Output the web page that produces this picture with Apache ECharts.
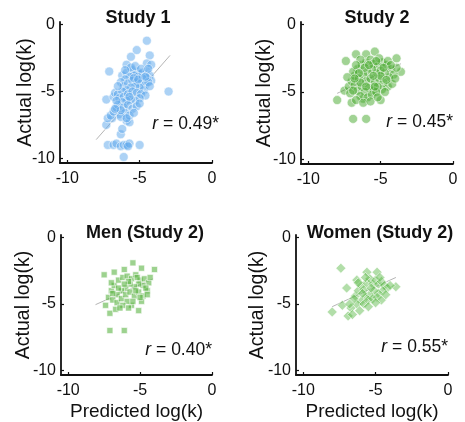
<!DOCTYPE html>
<html><head><meta charset="utf-8">
<script src="https://cdn.jsdelivr.net/npm/echarts@6/dist/echarts.min.js"></script>
<style>html,body{margin:0;padding:0;background:#fff}#c{width:465px;height:422px}</style>
</head><body><div id="c"></div>
<script>
const panelTitles = ['Study 1', 'Study 2', 'Men (Study 2)', 'Women (Study 2)'];
const rValues = ['0.49*', '0.45*', '0.40*', '0.55*'];
const tickValues = [-10, -5, 0];
const xAxisName = 'Predicted log(k)';
const yAxisName = 'Actual log(k)';

const study1 = [
[-4.5,-1.2],[-5.2,-1.9],[-4.3,-2.3],[-5.6,-2.4],[-7.1,-3.5],[-5.9,-3.0],[-4.5,-2.9],[-4.2,-3.0],[-3.0,-5.0],[-7.3,-5.6],
[-7.3,-7.5],[-7.2,-9.0],[-6.8,-9.0],[-6.6,-8.9],[-6.3,-9.1],[-6.1,-9.0],[-5.9,-9.0],[-5.7,-8.9],[-5.8,-9.1],[-5.0,-9.0],
[-6.1,-9.9],[-6.3,-8.2],[-6.2,-7.8],[-5.9,-7.2],[-5.7,-7.3],[-6.4,-6.7],[-6.9,-7.0],[-7.2,-7.0],[-7.0,-6.8],[-6.8,-6.5],
[-6.6,-6.2],[-6.8,-5.4],[-6.7,-5.1],[-6.5,-5.2],
[-6.2,-3.8],[-5.9,-3.6],[-5.5,-3.4],[-5.2,-3.5],[-5.0,-3.7],[-4.8,-3.6],[-4.5,-3.5],[-4.3,-3.8],[-4.2,-4.2],[-4.5,-4.0],
[-4.8,-4.0],[-5.1,-3.9],[-5.4,-3.8],[-5.7,-3.9],[-6.0,-4.1],[-6.3,-4.3],[-6.1,-4.6],[-5.8,-4.4],[-5.5,-4.2],[-5.2,-4.3],
[-4.9,-4.4],[-4.6,-4.5],[-4.4,-4.3],[-4.7,-4.9],[-5.0,-4.7],[-5.3,-4.6],[-5.6,-4.7],[-5.9,-4.9],[-6.2,-5.0],[-6.4,-5.5],
[-6.1,-5.4],[-5.8,-5.2],[-5.5,-5.0],[-5.2,-5.1],[-4.9,-5.2],[-4.6,-5.3],[-5.0,-5.5],[-5.3,-5.7],[-5.6,-5.6],[-5.9,-5.7],
[-6.2,-5.8],[-6.5,-6.0],[-6.1,-6.2],[-5.8,-6.0],[-5.5,-6.3],[-5.2,-6.1],[-5.0,-5.9],[-6.0,-6.6],[-5.7,-6.8],[-6.3,-6.9],
[-5.4,-6.6],[-5.6,-3.2],[-5.3,-3.1],[-4.9,-3.3],[-4.4,-3.3],[-6.5,-4.6],[-6.6,-5.7],[-5.4,-4.0],[-5.1,-4.1],[-4.6,-3.9],
[-4.3,-4.6],[-6.0,-3.4],[-5.7,-5.4],[-6.3,-6.4],[-5.9,-7.0],[-6.7,-6.3]
];
const study2 = [
[-5.4,-2.0],[-6.0,-2.2],[-6.7,-2.2],[-7.4,-2.7],[-3.9,-2.5],[-3.6,-3.5],[-8.0,-5.6],[-6.9,-7.0],[-6.0,-7.0],[-5.0,-5.6],
[-7.5,-4.9],[-7.0,-5.8],[-6.2,-5.5],
[-7.2,-4.6],[-7.0,-4.2],[-6.8,-3.8],[-6.6,-3.3],[-6.3,-3.0],[-6.0,-2.8],[-5.7,-2.6],[-5.5,-2.9],[-5.2,-3.1],[-4.9,-2.8],
[-4.6,-3.0],[-4.3,-3.3],[-4.1,-3.7],[-4.4,-3.9],[-4.7,-3.6],[-5.0,-3.4],[-5.3,-3.6],[-5.6,-3.3],[-5.9,-3.5],[-6.2,-3.7],
[-6.5,-4.0],[-6.8,-4.5],[-6.6,-4.9],[-6.3,-4.6],[-6.0,-4.2],[-5.7,-4.0],[-5.4,-4.3],[-5.1,-4.0],[-4.8,-4.3],[-4.5,-4.6],
[-4.2,-4.4],[-4.9,-4.8],[-5.2,-4.6],[-5.5,-4.9],[-5.8,-4.7],[-6.1,-5.0],[-6.4,-5.3],[-6.7,-5.6],[-5.9,-5.4],[-5.6,-5.2],
[-5.3,-5.0],[-7.1,-5.1],[-6.9,-3.5],[-6.4,-2.6],[-5.1,-2.5],[-4.5,-2.7],[-3.9,-3.2],[-4.0,-4.0],[-6.1,-3.2],[-5.8,-3.0],
[-5.0,-3.8],[-4.6,-4.1],[-5.5,-3.8],[-6.4,-4.3],[-6.9,-4.9],[-6.2,-5.8],[-5.7,-5.7],[-4.7,-5.0],[-5.2,-5.4],[-6.7,-3.0],
[-7.3,-3.9],[-6.5,-3.6],[-5.3,-2.7],[-4.3,-3.0],[-4.8,-3.2],[-6.0,-4.6],[-6.8,-4.0],[-5.4,-4.6]
];
const men = [
[-5.5,-1.9],[-6.1,-2.4],[-6.8,-2.6],[-7.5,-2.8],[-4.0,-2.4],[-4.9,-2.3],[-7.1,-7.0],[-6.1,-7.0],[-7.4,-5.1],[-7.1,-5.7],
[-6.7,-5.4],[-5.1,-5.5],[-4.5,-4.0],[-5.6,-5.1],
[-7.2,-4.5],[-7.0,-4.0],[-6.8,-3.6],[-6.5,-3.2],[-6.2,-3.0],[-5.9,-2.9],[-5.6,-3.1],[-5.3,-2.8],[-5.0,-3.2],[-4.7,-3.1],
[-4.4,-3.4],[-4.8,-3.6],[-5.1,-3.5],[-5.4,-3.7],[-5.7,-3.5],[-6.0,-3.8],[-6.3,-4.0],[-6.6,-4.3],[-6.9,-4.7],[-6.6,-4.9],
[-6.3,-4.6],[-6.0,-4.3],[-5.7,-4.1],[-5.4,-4.4],[-5.1,-4.1],[-4.8,-4.4],[-4.6,-3.8],[-5.9,-4.8],[-6.2,-5.1],[-5.5,-4.8],
[-6.5,-3.8],[-7.0,-3.4],[-5.8,-3.3],[-5.2,-3.0],[-4.3,-3.0],[-6.4,-5.3],[-5.8,-5.3],[-4.9,-4.8],[-6.9,-4.2],[-5.0,-4.5],
[-4.5,-4.3],[-6.1,-3.5],[-5.3,-4.0]
];
const women = [
[-7.4,-2.3],[-5.6,-2.6],[-4.9,-2.6],[-3.6,-3.7],[-8.0,-5.6],[-6.9,-5.9],[-7.3,-5.1],[-6.7,-5.3],[-6.3,-3.2],[-7.0,-3.8],
[-6.4,-4.4],
[-6.2,-4.0],[-6.0,-3.6],[-5.8,-3.9],[-5.6,-3.4],[-5.4,-3.1],[-5.2,-3.5],[-5.0,-3.2],[-4.8,-3.5],[-4.6,-3.3],[-4.4,-3.6],
[-4.2,-3.8],[-4.0,-3.6],[-4.5,-4.0],[-4.8,-4.2],[-5.1,-4.0],[-5.4,-4.3],[-5.7,-4.5],[-6.0,-4.8],[-6.3,-5.0],[-6.6,-5.8],
[-6.1,-5.5],[-5.8,-5.0],[-5.5,-4.7],[-5.2,-4.6],[-4.9,-4.5],[-4.6,-4.7],[-5.9,-4.2],[-5.3,-3.8],[-4.7,-3.0],[-5.7,-3.0],
[-6.5,-4.6],[-6.8,-5.0],[-5.0,-4.9],[-4.3,-4.3],[-5.5,-5.2],[-6.2,-3.4]
];
const fitLines = [
[[-8.0,-8.6],[-2.9,-2.3]],
[[-8.0,-5.1],[-3.6,-2.9]],
[[-8.1,-5.05],[-4.1,-3.1]],
[[-8.0,-5.2],[-3.6,-3.0]]
];

const FONT = '"Liberation Sans", Arial, Helvetica, sans-serif';
const grids = [
  {left: 60, top: 22, width: 152, height: 141},
  {left: 301, top: 22, width: 152, height: 142},
  {left: 61, top: 235, width: 151, height: 142},
  {left: 296, top: 235, width: 152, height: 142}
];
const panelData = [study1, study2, men, women];
const symbols = ['circle', 'circle', 'rect', 'diamond'];
const sizes = [9, 9, 6, 10];
const colors = ['rgba(95,168,236,0.65)', 'rgba(75,170,50,0.65)', 'rgba(80,175,55,0.7)', 'rgba(95,185,75,0.6)'];
const yNameGaps = [24, 26, 27, 28];

const axisCommon = {
  type: 'value', min: -10.5, max: 0,
  axisLine: {onZero: false, lineStyle: {color: '#111', width: 1.8}},
  axisTick: {inside: true, length: 3, customValues: tickValues, lineStyle: {color: '#111', width: 1.2}},
  axisLabel: {customValues: tickValues, color: '#111', fontSize: 16, fontFamily: FONT, margin: 8},
  splitLine: {show: false}
};

const xAxis = grids.map((g, i) => Object.assign({}, axisCommon, {
  gridIndex: i,
  name: i >= 2 ? xAxisName : '',
  nameLocation: 'middle', nameGap: 27,
  nameTextStyle: {fontSize: 19, color: '#111', fontFamily: FONT}
}));
const yAxis = grids.map((g, i) => Object.assign({}, axisCommon, {
  gridIndex: i, min: -10.35, max: 0.2,
  axisLabel: Object.assign({}, axisCommon.axisLabel, {margin: 5}),
  name: yAxisName,
  nameLocation: 'middle', nameGap: yNameGaps[i], nameMoveOverlap: false,
  nameTextStyle: {fontSize: 19.5, color: '#111', fontFamily: FONT}
}));

const series = [];
panelData.forEach((d, i) => {
  series.push({
    type: 'line', xAxisIndex: i, yAxisIndex: i, data: fitLines[i], symbol: 'none',
    lineStyle: {color: '#b5b5b5', width: 1}, z: 1, silent: true
  });
  series.push({
    type: 'scatter', xAxisIndex: i, yAxisIndex: i, data: d,
    symbol: symbols[i], symbolSize: sizes[i],
    itemStyle: {color: colors[i], borderColor: '#fff', borderWidth: 0.7}, z: 2
  });
});

const titlePos = [[138, 18], [377, 18], [145, 233], [380, 233]];
const rPos = [[219, 124], [453, 122], [212, 350], [448, 347]];
const graphic = [];
panelTitles.forEach((t, i) => {
  graphic.push({type: 'text', x: titlePos[i][0], y: titlePos[i][1],
    style: {text: t, align: 'center', verticalAlign: 'middle', fontSize: 18, fontWeight: 'bold', fill: '#111', fontFamily: FONT}});
  graphic.push({type: 'text', x: rPos[i][0], y: rPos[i][1],
    style: {text: '{i|r} = ' + rValues[i], align: 'right', verticalAlign: 'middle', fontSize: 17.5, fill: '#111', fontFamily: FONT,
      rich: {i: {fontStyle: 'italic', fontSize: 17.5, fontFamily: FONT, fill: '#111'}}}});
});

const chart = echarts.init(document.getElementById('c'), null, {renderer: 'canvas'});
chart.setOption({
  animation: false,
  backgroundColor: '#fff',
  grid: grids,
  xAxis: xAxis,
  yAxis: yAxis,
  series: series,
  graphic: graphic
});
</script></body></html>
